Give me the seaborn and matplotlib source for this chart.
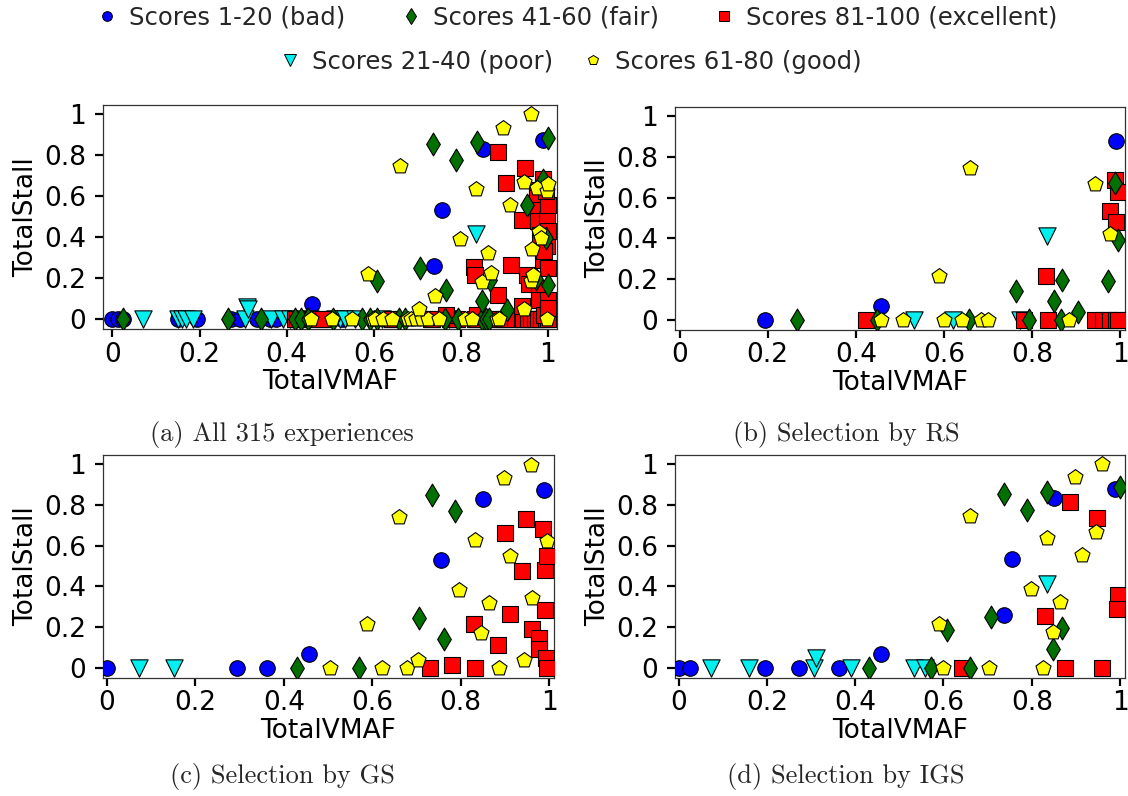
import matplotlib
matplotlib.use("Agg")
import matplotlib.pyplot as plt
from matplotlib.lines import Line2D
from matplotlib.ticker import FuncFormatter
import seaborn as sns
import pandas as pd

# ---------------- data ----------------
class_labels = ["Scores 1-20 (bad)", "Scores 21-40 (poor)", "Scores 41-60 (fair)",
                "Scores 61-80 (good)", "Scores 81-100 (excellent)"]
class_keys = ["bad", "poor", "fair", "good", "excellent"]
tick_values = [0, 0.2, 0.4, 0.6, 0.8, 1]
captions = ["(a) All 315 experiences", "(b) Selection by RS",
            "(c) Selection by GS", "(d) Selection by IGS"]

# (a) all experiences
a_bad_x = [0.0, 0.012, 0.025, 0.151, 0.195, 0.272, 0.293, 0.331, 0.362, 0.375, 0.461, 0.459, 0.526,
           0.738, 0.756, 0.851, 0.989]
a_bad_y = [0, 0, 0, 0, 0, 0, 0, 0, 0, 0, 0, 0.07, 0, 0.256, 0.532, 0.832, 0.876]
a_poor_x = [0.071, 0.151, 0.159, 0.170, 0.185, 0.304, 0.308, 0.311, 0.363, 0.391, 0.407, 0.453,
            0.511, 0.522, 0.534, 0.558, 0.620, 0.773, 0.834]
a_poor_y = [0, 0, 0, 0, 0, 0, 0.058, 0.05, 0, 0, 0, 0, 0, 0, 0, 0, 0, 0, 0.415]
a_fair_x = [0.024, 0.266, 0.342, 0.420, 0.432, 0.449, 0.507, 0.572, 0.592, 0.608, 0.608, 0.658,
            0.672, 0.707, 0.737, 0.763, 0.765, 0.789, 0.794, 0.836, 0.849, 0.849, 0.858, 0.865,
            0.868, 0.905, 0.951, 0.972, 0.989, 0.995, 1.0, 1.0]
a_fair_y = [0, 0, 0, 0, 0, 0, 0, 0, 0, 0, 0.183, 0, 0, 0.248, 0.852, 0, 0.143, 0.775, 0, 0.865,
            0, 0.089, 0, 0, 0.191, 0.045, 0.556, 0.192, 0.678, 0.393, 0.886, 0.167]
a_good_x = [0.457, 0.504, 0.549, 0.599, 0.603, 0.621, 0.641, 0.679, 0.685, 0.698, 0.710, 0.725,
            0.750, 0.810, 0.826, 0.884, 0.887, 0.997,
            0.587, 0.660, 0.704, 0.740, 0.798, 0.834, 0.848, 0.863, 0.869, 0.897, 0.913, 0.945,
            0.946, 0.961, 0.961, 0.964, 0.966, 0.974, 0.979, 0.985, 0.997, 1.0]
a_good_y = [0, 0, 0, 0, 0, 0, 0, 0, 0, 0, 0, 0, 0, 0, 0, 0, 0, 0,
            0.22, 0.746, 0.049, 0.11, 0.389, 0.636, 0.178, 0.321, 0.224, 0.934, 0.556, 0.67,
            0.049, 1.0, 0.183, 0.341, 0.212, 0.64, 0.422, 0.394, 0.626, 0.66]
a_exc_x = [0.419, 0.423, 0.475, 0.484, 0.641, 0.643, 0.731, 0.733, 0.775, 0.781, 0.790, 0.832,
           0.836, 0.875, 0.886, 0.900, 0.910, 0.925, 0.940, 0.943, 0.955, 0.960, 0.970, 0.976,
           0.985, 0.995, 1.0,
           0.767, 0.830, 0.832, 0.836, 0.886, 0.886, 0.903, 0.914, 0.940, 0.940, 0.947, 0.951,
           0.956, 0.974, 0.974, 0.978, 0.978, 0.980, 0.980, 0.982, 0.989, 0.989, 0.991, 0.997,
           0.997, 1.0, 1.0, 1.0, 1.0, 0.995, 1.0, 0.990]
a_exc_y = [0, 0, 0, 0, 0, 0, 0, 0, 0, 0, 0, 0, 0, 0, 0, 0, 0, 0, 0, 0, 0, 0, 0, 0, 0, 0, 0,
           0.016, 0.251, 0.216, 0.016, 0.813, 0.115, 0.665, 0.264, 0.483, 0.062, 0.735, 0.216,
           0.172, 0.629, 0.589, 0.532, 0.48, 0.151, 0.094, 0.41, 0.683, 0.289, 0.02, 0.49,
           0.354, 0.556, 0.427, 0.094, 0.054, 0.626, 0.25, 0.33]

# (b) selection by RS
b_bad_x = [0.193, 0.458, 0.990]
b_bad_y = [0, 0.069, 0.877]
b_poor_x = [0.533, 0.620, 0.773, 0.834]
b_poor_y = [0, 0, 0, 0.413]
b_fair_x = [0.266, 0.449, 0.658, 0.763, 0.794, 0.849, 0.865, 0.868, 0.905, 0.972, 0.989, 0.995]
b_fair_y = [0, 0, 0, 0.143, 0, 0.09, 0, 0.197, 0.036, 0.192, 0.672, 0.393]
b_good_x = [0.457, 0.506, 0.588, 0.601, 0.641, 0.660, 0.685, 0.701, 0.884, 0.943, 0.977]
b_good_y = [0, 0, 0.213, 0, 0, 0.746, 0, 0, 0, 0.669, 0.423]
b_exc_x = [0.423, 0.781, 0.832, 0.836, 0.943, 0.960, 0.976, 0.990, 0.995, 0.977, 0.989, 0.995, 0.991]
b_exc_y = [0, 0, 0.216, 0, 0, 0, 0, 0, 0, 0.536, 0.685, 0.626, 0.480]

# (c) selection by GS
c_bad_x = [0.0, 0.293, 0.362, 0.457, 0.755, 0.850, 0.989]
c_bad_y = [0, 0, 0, 0.067, 0.531, 0.827, 0.871]
c_poor_x = [0.072, 0.151]
c_poor_y = [0, 0]
c_fair_x = [0.430, 0.571, 0.706, 0.734, 0.762, 0.787]
c_fair_y = [0, 0, 0.246, 0.847, 0.143, 0.770]
c_good_x = [0.504, 0.587, 0.621, 0.660, 0.679, 0.704, 0.797, 0.832, 0.845, 0.863, 0.887, 0.897,
            0.912, 0.944, 0.959, 0.962, 0.995]
c_good_y = [0, 0.213, 0, 0.741, 0, 0.04, 0.383, 0.630, 0.171, 0.318, 0, 0.930, 0.550, 0.04,
            0.998, 0.342, 0.621]
c_exc_x = [0.731, 0.780, 0.830, 0.832, 0.884, 0.900, 0.912, 0.938, 0.947, 0.961, 0.976, 0.976,
           0.987, 0.991, 0.991, 0.995, 0.992, 0.995]
c_exc_y = [0, 0.016, 0.217, 0, 0.114, 0.660, 0.262, 0.477, 0.733, 0.192, 0.147, 0.090, 0.681,
           0.480, 0.282, 0.550, 0.046, 0]

# (d) selection by IGS
d_bad_x = [0.0, 0.025, 0.195, 0.272, 0.364, 0.459, 0.738, 0.756, 0.851, 0.989]
d_bad_y = [0, 0, 0, 0, 0, 0.07, 0.261, 0.535, 0.832, 0.876]
d_poor_x = [0.073, 0.159, 0.306, 0.311, 0.391, 0.534, 0.558, 0.834]
d_poor_y = [0, 0, 0, 0.05, 0, 0, 0, 0.41]
d_fair_x = [0.432, 0.572, 0.608, 0.659, 0.707, 0.736, 0.789, 0.835, 0.849, 0.868, 1.0]
d_fair_y = [0, 0, 0.188, 0, 0.25, 0.852, 0.775, 0.865, 0.093, 0.196, 0.889]
d_good_x = [0.589, 0.598, 0.660, 0.702, 0.798, 0.826, 0.834, 0.847, 0.864, 0.897, 0.913, 0.945, 0.960]
d_good_y = [0.217, 0, 0.746, 0, 0.387, 0, 0.635, 0.175, 0.321, 0.935, 0.555, 0.669, 1.0]
d_exc_x = [0.643, 0.830, 0.875, 0.887, 0.947, 0.960, 0.996, 0.992]
d_exc_y = [0, 0.256, 0, 0.812, 0.737, 0, 0.359, 0.289]

# ---------------- styling ----------------
sns.set_theme(style="ticks")
plt.rcParams["font.family"] = ["DejaVu Sans"]

colors = {"bad": "#0000ff", "poor": "#00f0f0", "fair": "#007000",
          "good": "#ffff00", "excellent": "#ff0000"}
markers = {"bad": "o", "poor": "v", "fair": "d", "good": "p", "excellent": "s"}
sizes = {"bad": 125, "poor": 155, "fair": 135, "good": 130, "excellent": 120}
draw_order = ["bad", "poor", "excellent", "fair", "good"]


def make_frame(parts):
    rows = []
    for key, (xs, ys) in parts.items():
        for x, y in zip(xs, ys):
            rows.append({"TotalVMAF": x, "TotalStall": y, "cls": key})
    return pd.DataFrame(rows)


panels = [
    make_frame({"bad": (a_bad_x, a_bad_y), "poor": (a_poor_x, a_poor_y), "fair": (a_fair_x, a_fair_y),
                "good": (a_good_x, a_good_y), "excellent": (a_exc_x, a_exc_y)}),
    make_frame({"bad": (b_bad_x, b_bad_y), "poor": (b_poor_x, b_poor_y), "fair": (b_fair_x, b_fair_y),
                "good": (b_good_x, b_good_y), "excellent": (b_exc_x, b_exc_y)}),
    make_frame({"bad": (c_bad_x, c_bad_y), "poor": (c_poor_x, c_poor_y), "fair": (c_fair_x, c_fair_y),
                "good": (c_good_x, c_good_y), "excellent": (c_exc_x, c_exc_y)}),
    make_frame({"bad": (d_bad_x, d_bad_y), "poor": (d_poor_x, d_poor_y), "fair": (d_fair_x, d_fair_y),
                "good": (d_good_x, d_good_y), "excellent": (d_exc_x, d_exc_y)}),
]

W, H = 1128, 796
fig = plt.figure(figsize=(W / 100, H / 100), dpi=100)

# axes boxes in pixels: left, top, right, bottom
boxes = [(103, 105, 557, 329), (675, 107, 1125, 330), (103, 455, 554, 678), (675, 455, 1125, 678)]
xlims = [(-0.0216, 1.0207), (-0.0105, 1.011), (-0.009, 1.011), (-0.008, 1.011)]
caption_pos = [(0.25, 1 - 435 / H), (0.75, 1 - 435 / H), (0.25, 1 - 777 / H), (0.75, 1 - 777 / H)]

fmt = FuncFormatter(lambda v, p: f"{v:g}")

for i, df in enumerate(panels):
    l, t, r, b = boxes[i]
    ax = fig.add_axes([l / W, 1 - b / H, (r - l) / W, (b - t) / H])
    for key in draw_order:
        sub = df[df["cls"] == key]
        sns.scatterplot(data=sub, x="TotalVMAF", y="TotalStall", ax=ax,
                        marker=markers[key], s=sizes[key], color=colors[key],
                        edgecolor="black", linewidth=0.8, legend=False, zorder=3)
    ax.set_xlim(*xlims[i])
    ax.set_ylim(-0.05, 1.045)
    ax.set_xticks(tick_values)
    ax.set_yticks(tick_values)
    ax.xaxis.set_major_formatter(fmt)
    ax.yaxis.set_major_formatter(fmt)
    ax.tick_params(axis="both", length=6, width=1.6, labelsize=19, color="black", labelcolor="black")
    ax.tick_params(axis="x", pad=3)
    ax.tick_params(axis="y", pad=6)
    for sp in ax.spines.values():
        sp.set_visible(True)
        sp.set_color("#333333")
        sp.set_linewidth(0.9)
    ax.set_xlabel("TotalVMAF", fontsize=19, labelpad=1, color="black")
    ax.set_ylabel("TotalStall", fontsize=19, labelpad=4, color="black")
    cx, cy = caption_pos[i]
    fig.text(cx, cy, captions[i], ha="center", va="center", fontsize=19, family="cmr10")


def handle(key, ms):
    return Line2D([], [], linestyle="none", marker=markers[key], markersize=ms,
                  markerfacecolor=colors[key], markeredgecolor="black", markeredgewidth=0.7)


ms = {"bad": 7, "poor": 8, "fair": 8, "good": 7.5, "excellent": 7}
row1 = ["bad", "fair", "excellent"]
row2 = ["poor", "good"]
leg1 = fig.legend([handle(k, ms[k]) for k in row1],
                  [class_labels[class_keys.index(k)] for k in row1],
                  loc="center", bbox_to_anchor=(0.512, 1 - 18 / H), ncol=3, frameon=False,
                  fontsize=17.5, handlelength=0.8, handletextpad=0.5, columnspacing=2.3,
                  borderaxespad=0, borderpad=0)
leg2 = fig.legend([handle(k, ms[k]) for k in row2],
                  [class_labels[class_keys.index(k)] for k in row2],
                  loc="center", bbox_to_anchor=(0.506, 1 - 62 / H), ncol=2, frameon=False,
                  fontsize=17.5, handlelength=0.8, handletextpad=0.5, columnspacing=1.25,
                  borderaxespad=0, borderpad=0)

fig.savefig("out.png", dpi=100)
